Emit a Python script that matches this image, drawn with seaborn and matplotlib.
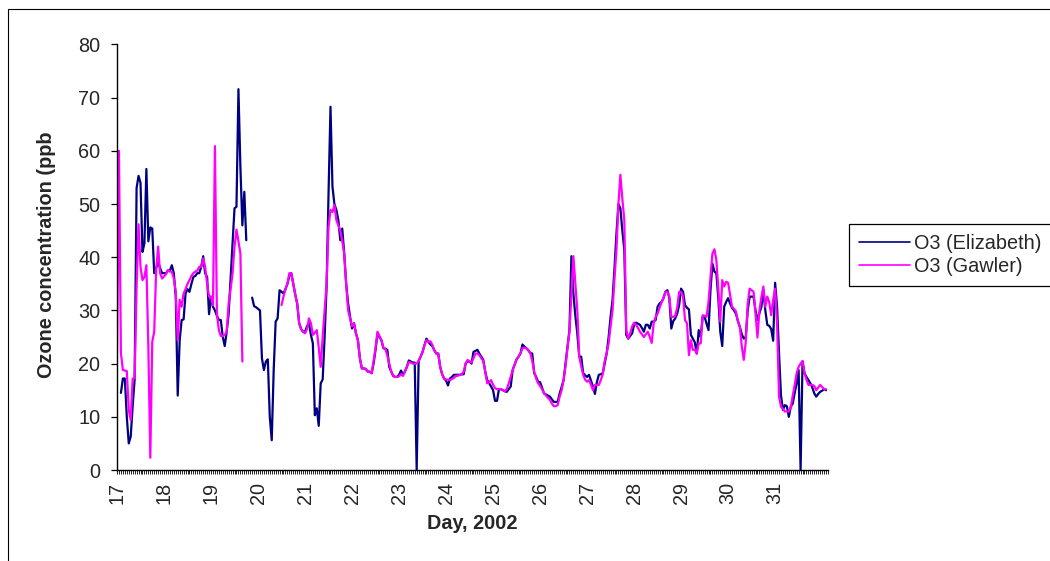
import numpy as np
import pandas as pd
import matplotlib
matplotlib.use("Agg")
import matplotlib.pyplot as plt
from matplotlib.patches import Rectangle
from matplotlib.ticker import MultipleLocator
import seaborn as sns

nan = np.nan

# Hourly ozone readings (ppb), starting 17th 00:00; nan = no reading
elizabeth = [
    nan, nan, 14.5, 17.2, 17.2, 10, 5, 6.3, 12, 17, 53, 55.3, 54, 41, 42.6, 56.6, 43, 45.6, 45.4, 37, 38, 39, 38, 37,
    37, 37, 37.5, 37.5, 38.5, 37, 32.6, 14, 24.4, 28.2, 28.3, 33.2, 34, 33.5, 35, 36.3, 36.5, 37, 37, 38.2, 40.2, 37, 36.3, 29.3,
    32.6, 30.7, 30, 29, 28.2, 28.2, 25, 23.3, 26, 29.4, 36, 42.6, 49.2, 49.5, 71.6, 57, 46, 52.3, 43.2, nan, nan, 32.4, 30.8, 30.6,
    30.3, 30, 21, 18.8, 20.4, 20.8, 10, 5.6, 18.8, 27.9, 28.5, 33.8, 33.5, 33.2, 34, 35, 36.5, 37, 35, 33, 31.3, 27.6, 26.5, 26,
    26, 27, 27.6, 25.4, 23.8, 10.3, 11.6, 8.3, 16.3, 17, 25, 34.5, 52, 68.3, 53.3, 50, 48.9, 47, 43.2, 45.4, 40.7, 35, 31.3, 28.8,
    26.6, 27.6, 25.7, 24.4, 21, 19.1, 19.1, 19, 18.5, 18.5, 18.2, 20, 22.6, 25.7, 25, 24.4, 22.9, 22.8, 22.6, 19.4, 18.5, 17.7, 17.5, 17.5,
    17.9, 18.7, 17.9, 18.5, 19.4, 20.6, 20.4, 20.2, 20.2, 0, 20.5, 21.3, 22.2, 23.5, 24.7, 24.1, 23.6, 23.3, 22.5, 21.9, 21.9, 19.4, 18, 17.2,
    16.8, 15.9, 17.2, 17.5, 17.9, 17.9, 17.9, 17.9, 18, 18, 20, 20.4, 20.4, 20, 22.2, 22.4, 22.6, 21.9, 21.3, 20.7, 18.5, 16.9, 16.3, 15.7,
    15, 13, 13, 15.2, 15.2, 15, 14.8, 14.7, 15.2, 15.7, 18.8, 19.8, 20.8, 21.3, 21.9, 23.6, 23.2, 22.9, 22.5, 22, 21.9, 18.2, 17.5, 16.6,
    16.5, 15.5, 14.4, 14.2, 14, 13.8, 13.3, 12.8, 12.8, 12.8, 14.4, 15.6, 16.9, 20, 23.2, 26.3, 40.2, 33.2, 29, 25.7, 21.3, 21.3, 18.2, 17.8,
    17.5, 17.9, 16.8, 15.7, 14.3, 16.5, 17.9, 18, 18.2, 20, 21.9, 25, 28.8, 32, 38, 44.5, 50, 49.2, 45, 41.4, 25.4, 24.7, 25.2, 25.7,
    27.3, 27.7, 27.5, 27.3, 26.7, 26, 27.3, 27.3, 26.6, 27.9, 27.9, 28.2, 30.7, 31.3, 31.6, 32.3, 33.5, 33.8, 32.3, 26.6, 28, 28.5, 29.4, 31,
    34.1, 33.5, 31, 30.5, 30.2, 25.4, 24.7, 24, 21.9, 26.3, 25, 28.8, 28.8, 27.5, 26.3, 33.8, 38.8, 37.3, 37, 32.3, 26, 23.3, 30.7, 31.6,
    32.3, 31.3, 30.5, 30, 29.4, 28, 26.9, 25.5, 24.7, 25, 30, 32.6, 32.6, 32.6, 30, 28.2, 29.5, 30.7, 33.8, 30, 27.3, 27.1, 26.5, 24.3,
    35.2, 30.7, 22, 14, 11.3, 12.2, 12, 10, 11.9, 12.5, 14.5, 16.3, 18.8, 0, 20.4, 18.2, 17.5, 16.9, 16.3, 15.5, 14.4, 13.8, 14.3, 14.7,
    14.9, 15.2, 15,
]

gawler = [
    22.4, 60, 22, 18.8, 18.7, 18.6, 11.3, 9.4, 17.2, 17.2, 34.5, 46.2, 38.2, 35.7, 36.3, 38.5, 23.2, 2.3, 24.1, 26, 37.6, 42, 37, 36,
    36.4, 36.8, 37.6, 37.3, 37.3, 36, 33.5, 24.4, 32, 30.7, 33.2, 34, 35, 35.7, 36.5, 37, 37.3, 37.5, 38.2, 38.2, 39.8, 38.2, 35, 32.6,
    32.6, 31, 60.9, 29.4, 26.3, 25.2, 25.2, 25.4, 26, 31.3, 34, 37, 42, 45.2, 43, 40.7, 20.4, nan, nan, nan, nan, nan, nan, nan,
    nan, nan, nan, nan, nan, nan, nan, nan, nan, nan, nan, nan, 31, 32.6, 34, 35, 37, 37, 35, 33, 31.3, 27.6, 26.5, 26,
    25.7, 26.5, 28.5, 27.6, 25.4, 25.8, 26.3, 23, 19.4, 25, 30, 35, 45.7, 48.9, 48.5, 49.8, 47, 46, 45, 43, 40.7, 35, 30, 28.5,
    27, 27.6, 25.7, 24.4, 21, 19.1, 19.1, 19, 18.5, 18.5, 18.2, 20.5, 23, 26, 25.2, 24.4, 23, 22.8, 21.5, 20, 18.5, 17.7, 17.5, 17.5,
    17.6, 18, 17.7, 18.5, 19.4, 20.3, 20.2, 20, 20, 20, 20.5, 21.3, 22.2, 23.5, 24.4, 24.1, 24.2, 23.5, 22.5, 21.9, 21.9, 19.4, 18, 17.2,
    17, 17, 16.9, 17.1, 17.3, 17.7, 17.7, 17.9, 18, 18.5, 20, 20.7, 20.4, 20.2, 21, 21.9, 21.9, 21.6, 21, 20.5, 18.5, 16.3, 16.5, 16.9,
    16, 15.4, 15.2, 15.2, 15.2, 15, 14.8, 15.2, 16.3, 17.5, 18.8, 19.8, 20.8, 21.3, 21.9, 22.9, 23, 22.9, 22.5, 22, 20.5, 18.5, 17.2, 16.3,
    15.8, 15.2, 14.5, 14, 13.6, 13.2, 12.5, 12, 12, 12.2, 13.8, 15, 16.9, 19.5, 23, 26, 33, 40.2, 35, 30, 21.3, 19.5, 17.9, 17,
    16.6, 16.9, 16, 15, 16, 16, 16, 16.9, 18, 20.5, 22, 23.8, 27, 30, 36, 41.4, 50, 55.5, 51, 47, 26.3, 24.7, 25.7, 27,
    27.7, 27.3, 26.7, 26, 25.5, 25, 25.5, 26, 25, 23.9, 27.6, 28.8, 29.4, 30.5, 31.5, 32.3, 33.5, 33.5, 32.6, 28.8, 28.8, 29, 30.5, 33.5,
    33.5, 32.6, 28.2, 27.6, 21.6, 24.4, 22.6, 22.6, 21.9, 23.8, 23.8, 29.1, 29, 28.8, 31.6, 36.3, 40.7, 41.5, 39.5, 34, 27.9, 35.7, 34.5, 35.4,
    35.2, 33, 30.7, 30.3, 29.8, 28, 26.9, 23.2, 20.7, 24, 31.3, 34.1, 33.8, 33.5, 29.4, 24.9, 30, 32.5, 34.5, 30.7, 32.6, 31.6, 29.1, 32,
    34.1, 27.6, 13.8, 11.9, 11.5, 11, 11, 11, 11.8, 14, 16, 18.2, 19.4, 20, 20.5, 18.2, 17, 16, 16, 16, 15.8, 15, 15.5, 16,
    15.6, 15.2, 15.2,
]

sites = ["O3 (Elizabeth)", "O3 (Gawler)"]
colors = ["#000080", "#FF00FF"]
first_day = 17
day_ticks = list(range(17, 32))
y_ticks = list(range(0, 81, 10))


def to_rows(values, site):
    """Long-form rows; each unbroken run of readings gets its own segment id."""
    rows, seg, gap = [], 0, True
    for hour, v in enumerate(values):
        if np.isnan(v):
            gap = True
            continue
        if gap:
            seg += 1
            gap = False
        rows.append({"day": first_day + hour / 24, "o3": v,
                     "site": site, "segment": f"{site} #{seg}"})
    return rows


df = pd.DataFrame(to_rows(elizabeth, sites[0]) + to_rows(gawler, sites[1]))
n_hours = max(len(elizabeth), len(gawler))

sns.set_style("white")
plt.rcParams["font.family"] = ["Liberation Sans", "DejaVu Sans"]
FS = 14.3

W, H = 1050, 561
fig = plt.figure(figsize=(W / 100, H / 100), dpi=100)
ax = fig.add_axes([117 / W, 1 - 470 / H, (828 - 117) / W, (470 - 44.5) / H])

sns.lineplot(data=df, x="day", y="o3", hue="site", units="segment",
             estimator=None, palette=dict(zip(sites, colors)),
             linewidth=1.6, ax=ax)

ax.set_xlim(first_day, first_day + n_hours / 24)
ax.set_ylim(0, 80)
ax.set_yticks(y_ticks)
ax.set_xticks(day_ticks)
ax.set_xticklabels([str(d) for d in day_ticks], rotation=90)
ax.xaxis.set_minor_locator(MultipleLocator(1 / 24))

sns.despine(ax=ax)
for side in ("left", "bottom"):
    ax.spines[side].set_color("black")
    ax.spines[side].set_linewidth(1.0)

ax.tick_params(axis="y", which="major", left=True, direction="out",
               length=4, width=0.9, color="black", labelsize=FS, pad=8)
ax.tick_params(axis="x", which="both", bottom=True, direction="out",
               length=2.8, width=0.6, color="black", labelsize=FS, pad=5.5)

ax.set_xlabel("Day, 2002", fontsize=FS, fontweight="bold")
ax.set_ylabel("Ozone concentration (ppb", fontsize=FS, fontweight="bold")
ax.xaxis.label.set_va("center")
ax.xaxis.set_label_coords(0.5, -0.1246)
ax.yaxis.label.set_va("center")
ax.yaxis.set_label_coords(-0.0985, 0.505)

handles, labels = ax.get_legend_handles_labels()
if ax.get_legend() is not None:
    ax.get_legend().remove()
leg = fig.legend(handles, labels, loc="upper left",
                 bbox_to_anchor=(849 / W, 1 - 224 / H),
                 bbox_transform=fig.transFigure, borderaxespad=0,
                 frameon=True, fancybox=False, framealpha=1,
                 edgecolor="black", fontsize=FS, borderpad=0.5,
                 handlelength=2.55, handletextpad=0.2, labelspacing=0.2)
leg.get_frame().set_linewidth(0.9)
for line in leg.get_lines():
    line.set_linewidth(1.2)

# chart-area border
fig.add_artist(Rectangle((7.5 / W, -0.1), 1.2, 1.1 - 9.5 / H,
                         transform=fig.transFigure, fill=False,
                         edgecolor="black", linewidth=0.8))

fig.savefig("out.png", dpi=100, facecolor="white")
